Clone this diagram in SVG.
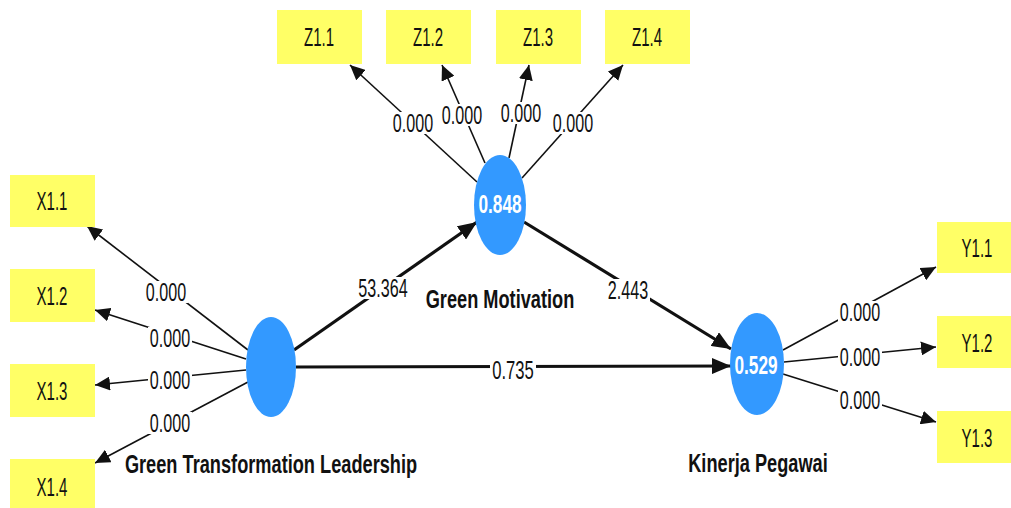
<svg xmlns="http://www.w3.org/2000/svg" width="1011" height="508" viewBox="0 0 1011 508">
<style>
.box{fill:#ffff66}
.bt{font-family:"Liberation Sans",Arial,sans-serif;font-size:25px;fill:#111;text-anchor:middle;dominant-baseline:central}
.lv{font-family:"Liberation Sans",Arial,sans-serif;font-size:26px;fill:#111;text-anchor:middle;dominant-baseline:central}
.bg{fill:#fff}
.lat{fill:#3399ff}
.nv{font-family:"Liberation Sans",Arial,sans-serif;font-weight:bold;font-size:25px;fill:#fff;text-anchor:middle;dominant-baseline:central}
.nm{font-family:"Liberation Sans",Arial,sans-serif;font-weight:bold;font-size:26px;fill:#111;text-anchor:middle;dominant-baseline:central}
.thin{stroke:#111;stroke-width:1.6;fill:none;marker-end:url(#ah)}
.thick{stroke:#111;stroke-width:3.2;fill:none;marker-end:url(#ahb)}
</style>
<defs>
<marker id="ah" markerUnits="userSpaceOnUse" markerWidth="16" markerHeight="14" refX="15" refY="7" orient="auto">
<path d="M0,0 L15,7 L0,14 z" fill="#111"/>
</marker>
<marker id="ahb" markerUnits="userSpaceOnUse" markerWidth="20" markerHeight="16" refX="19" refY="8" orient="auto">
<path d="M0,0 L19,8 L0,16 z" fill="#111"/>
</marker>
</defs>
<g id="connectors">
<line class="thin" x1="248" y1="350" x2="87" y2="226"/>
<line class="thin" x1="246" y1="359" x2="95" y2="310"/>
<line class="thin" x1="246" y1="370" x2="95" y2="385"/>
<line class="thin" x1="248" y1="382" x2="95" y2="463"/>
<line class="thin" x1="477" y1="182" x2="350" y2="65"/>
<line class="thin" x1="485" y1="163" x2="442" y2="65"/>
<line class="thin" x1="509" y1="158" x2="529" y2="65"/>
<line class="thin" x1="522" y1="178" x2="623" y2="65"/>
<line class="thin" x1="783" y1="350" x2="936" y2="267"/>
<line class="thin" x1="784" y1="362" x2="936" y2="347"/>
<line class="thin" x1="783" y1="374" x2="936" y2="422"/>
<line class="thick" x1="294" y1="350" x2="477" y2="222"/>
<line class="thick" x1="524" y1="222" x2="731" y2="349"/>
<line class="thick" x1="296" y1="367" x2="731" y2="366"/>
<rect class="bg" x="144" y="281" width="44" height="22"/>
<rect class="bg" x="148" y="327" width="44" height="22"/>
<rect class="bg" x="148" y="369" width="44" height="22"/>
<rect class="bg" x="148" y="412" width="44" height="22"/>
<rect class="bg" x="391" y="112" width="44" height="22"/>
<rect class="bg" x="440" y="104" width="44" height="22"/>
<rect class="bg" x="499" y="102" width="44" height="22"/>
<rect class="bg" x="551" y="112" width="44" height="22"/>
<rect class="bg" x="838" y="301" width="44" height="22"/>
<rect class="bg" x="838" y="346" width="44" height="22"/>
<rect class="bg" x="838" y="389" width="44" height="22"/>
<rect class="bg" x="357" y="277" width="52" height="22"/>
<rect class="bg" x="606" y="279" width="44" height="22"/>
<rect class="bg" x="490" y="359" width="46" height="22"/>
<text class="lv" transform="translate(166,292) scale(0.62,1)">0.000</text>
<text class="lv" transform="translate(170,338) scale(0.62,1)">0.000</text>
<text class="lv" transform="translate(170,380) scale(0.62,1)">0.000</text>
<text class="lv" transform="translate(170,423) scale(0.62,1)">0.000</text>
<text class="lv" transform="translate(413,123) scale(0.62,1)">0.000</text>
<text class="lv" transform="translate(462,115) scale(0.62,1)">0.000</text>
<text class="lv" transform="translate(521,113) scale(0.62,1)">0.000</text>
<text class="lv" transform="translate(573,123) scale(0.62,1)">0.000</text>
<text class="lv" transform="translate(860,312) scale(0.62,1)">0.000</text>
<text class="lv" transform="translate(860,357) scale(0.62,1)">0.000</text>
<text class="lv" transform="translate(860,400) scale(0.62,1)">0.000</text>
<text class="lv" transform="translate(383,288) scale(0.62,1)">53.364</text>
<text class="lv" transform="translate(628,290) scale(0.62,1)">2.443</text>
<text class="lv" transform="translate(513,370) scale(0.64,1)">0.735</text>
</g>
<g id="X1.1"><rect class="box" x="10" y="175" width="85" height="52"/><text class="bt" transform="translate(52,201) scale(0.6,1)">X1.1</text></g>
<g id="X1.2"><rect class="box" x="10" y="269" width="85" height="53"/><text class="bt" transform="translate(52,296) scale(0.6,1)">X1.2</text></g>
<g id="X1.3"><rect class="box" x="10" y="364" width="85" height="53"/><text class="bt" transform="translate(52,391) scale(0.6,1)">X1.3</text></g>
<g id="X1.4"><rect class="box" x="10" y="459" width="85" height="49"/><text class="bt" transform="translate(52,487) scale(0.6,1)">X1.4</text></g>
<g id="Z1.1"><rect class="box" x="277" y="10" width="85" height="54"/><text class="bt" transform="translate(319,37) scale(0.6,1)">Z1.1</text></g>
<g id="Z1.2"><rect class="box" x="386" y="10" width="85" height="54"/><text class="bt" transform="translate(428,37) scale(0.6,1)">Z1.2</text></g>
<g id="Z1.3"><rect class="box" x="496" y="10" width="85" height="54"/><text class="bt" transform="translate(538,37) scale(0.6,1)">Z1.3</text></g>
<g id="Z1.4"><rect class="box" x="605" y="10" width="85" height="54"/><text class="bt" transform="translate(647,37) scale(0.6,1)">Z1.4</text></g>
<g id="Y1.1"><rect class="box" x="937" y="222" width="74" height="51"/><text class="bt" transform="translate(977,248) scale(0.6,1)">Y1.1</text></g>
<g id="Y1.2"><rect class="box" x="937" y="316" width="74" height="52"/><text class="bt" transform="translate(977,343) scale(0.6,1)">Y1.2</text></g>
<g id="Y1.3"><rect class="box" x="937" y="411" width="74" height="52"/><text class="bt" transform="translate(977,438) scale(0.6,1)">Y1.3</text></g>
<g id="GTL"><ellipse class="lat" cx="271" cy="367" rx="25" ry="50"/><text class="nm" transform="translate(271,464) scale(0.7,1)">Green Transformation Leadership</text></g>
<g id="GM"><ellipse class="lat" cx="500" cy="205" rx="26" ry="50"/><text class="nv" transform="translate(500,205) scale(0.69,1)">0.848</text><text class="nm" transform="translate(500,299) scale(0.7,1)">Green Motivation</text></g>
<g id="KP"><ellipse class="lat" cx="757" cy="364" rx="27" ry="51"/><text class="nv" transform="translate(756,366) scale(0.69,1)">0.529</text><text class="nm" transform="translate(758,463) scale(0.7,1)">Kinerja Pegawai</text></g>
</svg>
